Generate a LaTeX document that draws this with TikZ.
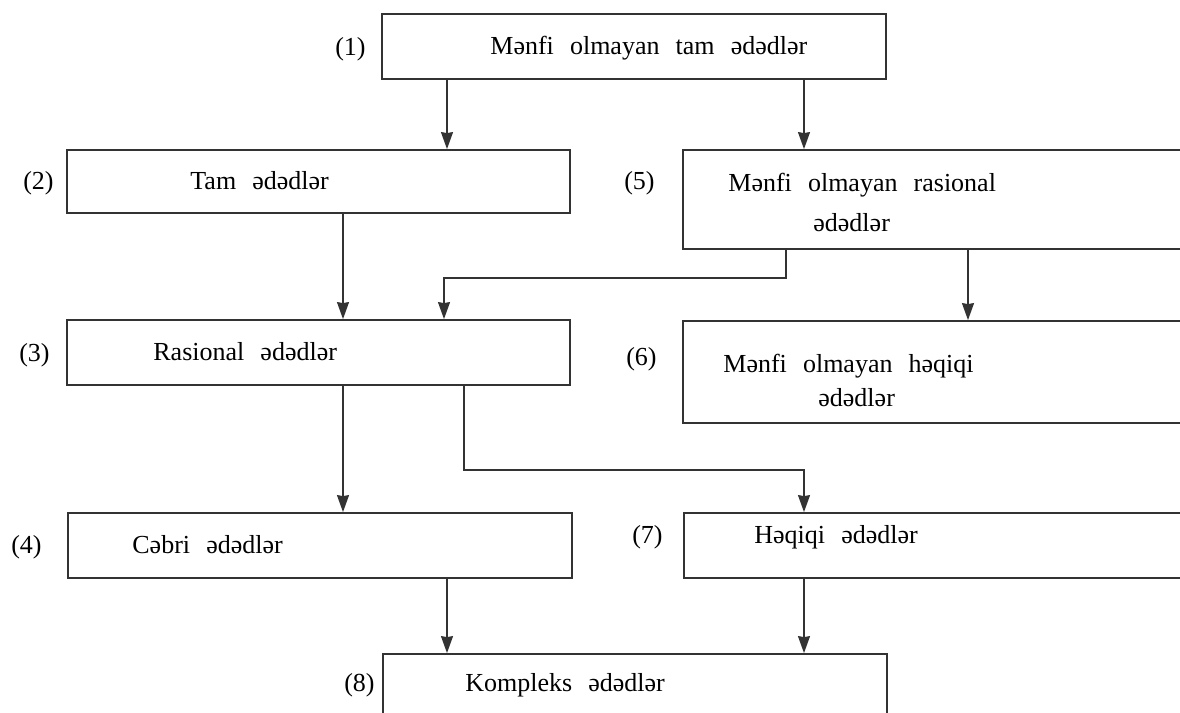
\documentclass[tikz,border=0pt]{standalone}
\usepackage{fontspec}
\setmainfont{Liberation Serif}
\usepackage{tikz}
\usetikzlibrary{positioning}
\usetikzlibrary{arrows.meta,fit}
\newcommand\widewords{\fontsize{13}{16}\selectfont\spaceskip=0.62em\relax}
\tikzset{%
  box/.style = {rectangle,draw=black!80,line width=0.9pt,inner sep=0pt},
  lbl/.style = {font=\widewords,text=black,inner sep=0pt,anchor=base west},
  num/.style = {font=\widewords,text=black,inner sep=0pt,anchor=base east},
  arr/.style = {-{Stealth[length=8.5pt,width=6pt,inset=0.5pt]},draw=black!80,
        line width=0.7pt}
}

\begin{document}
\begin{tikzpicture}[x=0.5pt,y=-0.5pt]
  \useasboundingbox (0,0) rectangle (1180,713);
  \clip (0,0) rectangle (1180,713);
  % boxes
  \node[box, fit={(382,14) (886,79)}] (b1) {};
  \node[box, fit={(67,150) (570,213)}] (b2) {};
  \node[box, fit={(683,150) (1200,249)}] (b5) {};
  \node[box, fit={(67,320) (570,385)}] (b3) {};
  \node[box, fit={(683,321) (1200,423)}] (b6) {};
  \node[box, fit={(68,513) (572,578)}] (b4) {};
  \node[box, fit={(684,513) (1200,578)}] (b7) {};
  \node[box, fit={(383,654) (887,740)}] (b8) {};
  % texts
  \node[lbl] (t1) at (490,54) {Mənfi olmayan tam ədədlər};
  \node[lbl] (t2) at (190,189) {Tam ədədlər};
  \node[lbl] (t5a) at (728,191) {Mənfi olmayan rasional};
  \node[lbl] (t5b) at (813,231) {ədədlər};
  \node[lbl] (t3) at (153,360) {Rasional ədədlər};
  \node[lbl] (t6a) at (723,372) {Mənfi olmayan həqiqi};
  \node[lbl] (t6b) at (818,406) {ədədlər};
  \node[lbl] (t4) at (132,553) {Cəbri ədədlər};
  \node[lbl] (t7) at (754,543) {Həqiqi ədədlər};
  \node[lbl] (t8) at (465,691) {Kompleks ədədlər};
  % numbers
  \node[num] (n1) at (366,55) {(1)};
  \node[num] (n2) at (54,189) {(2)};
  \node[num] (n5) at (655,189) {(5)};
  \node[num] (n3) at (50,361) {(3)};
  \node[num] (n6) at (657,365) {(6)};
  \node[num] (n4) at (42,553) {(4)};
  \node[num] (n7) at (663,543) {(7)};
  \node[num] (n8) at (375,691) {(8)};
  % connectors
  \path (447,0) coordinate (x1) (804,0) coordinate (x2) (343,0) coordinate (x3)
        (444,0) coordinate (x4) (786,0) coordinate (x5) (968,0) coordinate (x6)
        (464,0) coordinate (x7);
  \draw[arr] (b1.south -| x1) -- (b2.north -| x1);
  \draw[arr] (b1.south -| x2) -- (b5.north -| x2);
  \draw[arr] (b2.south -| x3) -- (b3.north -| x3);
  \draw[arr] (b5.south -| x5) -- ++(0,28) -| (b3.north -| x4);
  \draw[arr] (b5.south -| x6) -- (b6.north -| x6);
  \draw[arr] (b3.south -| x3) -- (b4.north -| x3);
  \draw[arr] (b3.south -| x7) -- ++(0,84) -| (b7.north -| x2);
  \draw[arr] (b4.south -| x1) -- (b8.north -| x1);
  \draw[arr] (b7.south -| x2) -- (b8.north -| x2);
\end{tikzpicture}
\end{document}
